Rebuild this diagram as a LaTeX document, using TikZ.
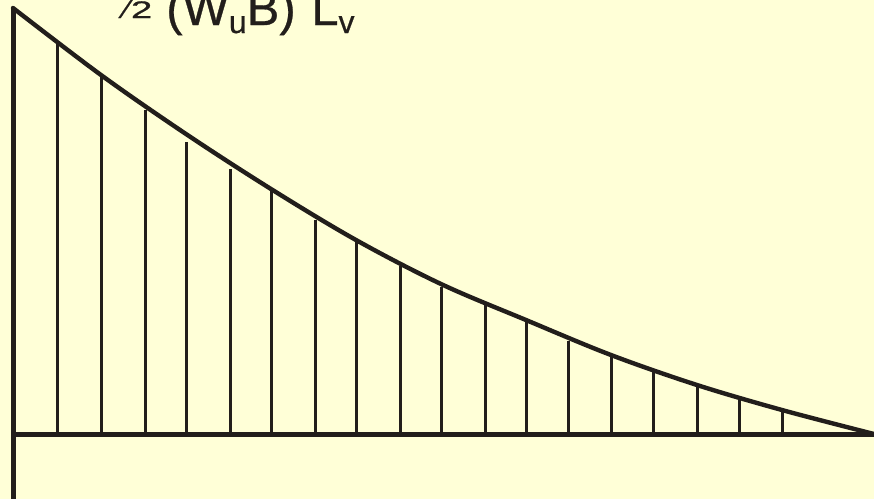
\documentclass[tikz,border=0pt]{standalone}
\usepackage{fontspec}
\setmainfont{Liberation Sans}
\newfontfamily\lblfont[FakeBold=0.6]{Liberation Sans}
\usepackage{graphicx}
\definecolor{bg}{HTML}{FFFFD7}
\definecolor{ink}{HTML}{221E1B}
\tikzset{
  axisline/.style={draw=ink, line width=2.5pt},
  curveline/.style={draw=ink, line width=2.2pt, line cap=round},
  vline/.style={draw=ink, line width=1.5pt},
  lbl/.style={text=ink, inner sep=0pt, font=\lblfont\fontsize{24.5}{26}\selectfont}
}
\newcommand{\mysub}[1]{\raisebox{-4pt}{\fontsize{16}{17}\selectfont #1}}
\begin{document}
\begin{tikzpicture}[x=0.5pt, y=-0.5pt]
\fill[bg] (0,0) rectangle (874,499);
\useasboundingbox (0,0) rectangle (874,499);
% axes
\coordinate (top) at (13,8);
\coordinate (bot) at (13,499);
\coordinate (o) at (13,434);
\coordinate (end) at (874,434);
% verticals
\foreach \x/\y [count=\i] in {57/43,101/77,145/110,186/142,230/169,271/191,315/220,356/242,400/266,441/287,485/303,526/321,568/341,611/357,653/371,697/386,739/398,782/409}{
  \coordinate (t\i) at (\x,\y);
  \coordinate (b\i) at (\x,434);
  \draw[vline] (b\i) -- (t\i);
}
\draw[curveline] plot[smooth, tension=0.55] coordinates {(13,8) (101,75) (186,134) (271,189) (356,240) (441,284) (526,320) (611,355) (697,385) (782,410) (874,434)};
\draw[axisline] (top) -- (bot);
\draw[axisline] (o) -- (end);
\node[lbl, anchor=base west] (label) at (114,25) {\raisebox{3.5pt}{\fontsize{12}{12}\selectfont\raisebox{12pt}{1}\kern-1.5pt\scalebox{1.3}[1.2]{⁄}\kern0.5pt\scalebox{1.6}[1]{2}}\hspace{7pt}(W\mysub{u}B)\hspace{1pt} L\mysub{v}};
\end{tikzpicture}
\end{document}
